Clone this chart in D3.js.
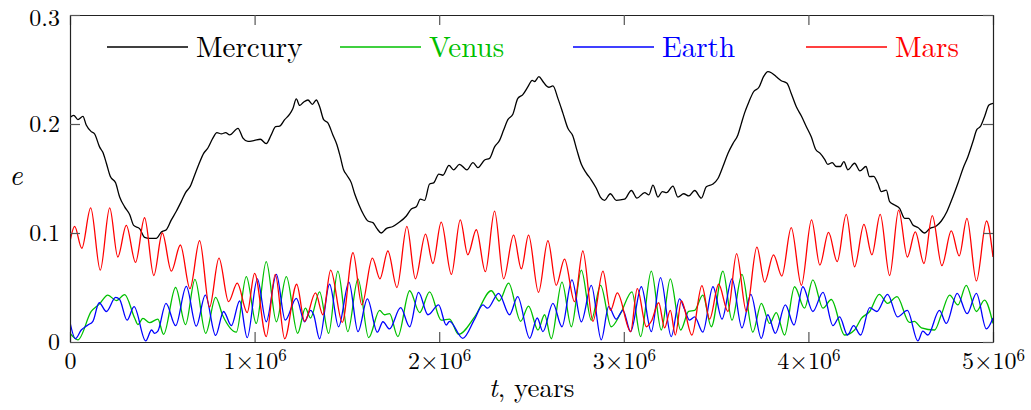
<!DOCTYPE html>
<html>
<head>
<meta charset="utf-8">
<script src="https://cdn.jsdelivr.net/npm/d3@7"></script>
<style>
  body { margin: 0; background: #fff; }
  svg { display: block; }
</style>
</head>
<body>
<div id="chart"></div>
<script>
// Eccentricity of the inner planets over 5 Myr. Pairs are [t in Myr, e].
const mercury = [
  [0,0.206],[0.020,0.208],[0.043,0.204],[0.070,0.207],[0.088,0.199],[0.115,0.193],[0.133,0.191],
  [0.160,0.179],[0.178,0.174],[0.197,0.164],[0.218,0.152],[0.247,0.146],[0.269,0.133],[0.296,0.124],
  [0.323,0.117],[0.345,0.107],[0.377,0.104],[0.404,0.096],[0.431,0.095],[0.467,0.095],[0.495,0.101],
  [0.522,0.103],[0.549,0.112],[0.576,0.120],[0.603,0.129],[0.626,0.137],[0.652,0.143],[0.675,0.153],
  [0.698,0.163],[0.724,0.173],[0.747,0.178],[0.774,0.187],[0.796,0.192],[0.820,0.191],[0.843,0.192],
  [0.865,0.190],[0.910,0.196],[0.937,0.187],[0.964,0.184],[1.000,0.185],[1.031,0.186],[1.063,0.182],
  [1.090,0.190],[1.114,0.1975],[1.135,0.198],[1.163,0.204],[1.190,0.209],[1.207,0.214],[1.226,0.223],
  [1.244,0.217],[1.265,0.220],[1.289,0.222],[1.313,0.218],[1.334,0.222],[1.352,0.216],[1.374,0.204],
  [1.397,0.201],[1.424,0.190],[1.446,0.181],[1.464,0.170],[1.482,0.158],[1.500,0.153],[1.524,0.146],
  [1.542,0.136],[1.565,0.126],[1.590,0.117],[1.614,0.111],[1.641,0.1095],[1.663,0.104],[1.686,0.100],
  [1.713,0.104],[1.749,0.106],[1.776,0.109],[1.822,0.1156],[1.849,0.122],[1.876,0.124],[1.898,0.131],
  [1.921,0.130],[1.948,0.145],[1.970,0.146],[1.998,0.154],[2.020,0.153],[2.053,0.162],[2.078,0.158],
  [2.110,0.163],[2.150,0.158],[2.183,0.1645],[2.210,0.160],[2.246,0.167],[2.273,0.1685],[2.300,0.179],
  [2.327,0.185],[2.349,0.1945],[2.372,0.204],[2.399,0.209],[2.426,0.2235],[2.453,0.227],[2.480,0.234],
  [2.504,0.240],[2.517,0.239],[2.540,0.2434],[2.562,0.239],[2.580,0.235],[2.594,0.2337],[2.616,0.235],
  [2.643,0.2235],[2.670,0.210],[2.697,0.196],[2.724,0.189],[2.746,0.176],[2.770,0.163],[2.797,0.155],
  [2.824,0.1486],[2.851,0.141],[2.873,0.133],[2.896,0.130],[2.927,0.136],[2.959,0.130],[3.004,0.131],
  [3.041,0.139],[3.071,0.132],[3.113,0.137],[3.136,0.135],[3.158,0.144],[3.185,0.133],[3.209,0.138],
  [3.232,0.137],[3.266,0.143],[3.293,0.133],[3.324,0.136],[3.353,0.134],[3.384,0.139],[3.420,0.132],
  [3.447,0.1425],[3.483,0.145],[3.510,0.150],[3.537,0.161],[3.564,0.173],[3.591,0.182],[3.618,0.190],
  [3.637,0.2006],[3.654,0.210],[3.678,0.2205],[3.703,0.2296],[3.732,0.2337],[3.757,0.2434],[3.781,0.248],
  [3.799,0.247],[3.826,0.2434],[3.853,0.2397],[3.884,0.2373],[3.907,0.228],[3.934,0.216],[3.962,0.2073],
  [3.989,0.1975],[4.016,0.188],[4.039,0.1768],[4.064,0.173],[4.088,0.1676],[4.105,0.163],[4.129,0.1645],
  [4.151,0.161],[4.173,0.161],[4.192,0.1654],[4.214,0.158],[4.250,0.164],[4.279,0.157],[4.312,0.161],
  [4.331,0.1517],[4.353,0.152],[4.376,0.1456],[4.395,0.138],[4.422,0.1394],[4.440,0.1287],[4.467,0.1257],
  [4.494,0.1226],[4.521,0.1135],[4.543,0.1135],[4.566,0.1073],[4.593,0.105],[4.630,0.100],[4.657,0.104],
  [4.693,0.1064],[4.720,0.111],[4.750,0.1195],[4.783,0.1333],[4.810,0.1456],[4.837,0.159],[4.864,0.170],
  [4.891,0.1837],[4.913,0.195],[4.931,0.1975],[4.954,0.2067],[4.978,0.2174],[5.000,0.219]
];

const venus = [
  [0,0.008],[0.043,0.002],[0.115,0.028],[0.160,0.035],[0.205,0.043],[0.251,0.038],[0.296,0.0435],
  [0.350,0.022],[0.368,0.016],[0.395,0.0217],[0.431,0.0177],[0.476,0.021],[0.507,0.007],[0.572,0.050],
  [0.626,0.016],[0.677,0.0575],[0.735,0.008],[0.789,0.041],[0.828,0.024],[0.901,0.009],[0.955,0.060],
  [1.009,0.017],[1.063,0.0737],[1.118,0.0186],[1.172,0.060],[1.233,0.008],[1.275,0.031],[1.303,0.022],
  [1.352,0.046],[1.401,0.008],[1.451,0.065],[1.505,0.0095],[1.560,0.058],[1.618,0.004],[1.677,0.029],
  [1.704,0.025],[1.731,0.026],[1.776,0.005],[1.840,0.047],[1.894,0.027],[1.948,0.046],[2.011,0.020],
  [2.056,0.021],[2.105,0.007],[2.192,0.023],[2.282,0.047],[2.325,0.0376],[2.376,0.054],[2.441,0.019],
  [2.484,0.033],[2.535,0.011],[2.571,0.025],[2.607,0.003],[2.665,0.055],[2.716,0.014],[2.770,0.066],
  [2.824,0.020],[2.874,0.052],[2.932,0.014],[2.982,0.026],[3.044,0.046],[3.091,0.005],[3.149,0.065],
  [3.203,0.011],[3.252,0.058],[3.308,0.011],[3.351,0.028],[3.384,0.029],[3.428,0.043],[3.474,0.014],
  [3.537,0.065],[3.586,0.020],[3.640,0.062],[3.699,0.009],[3.745,0.0355],[3.790,0.017],[3.826,0.027],
  [3.871,0.0064],[3.925,0.0507],[3.979,0.031],[4.024,0.057],[4.079,0.031],[4.124,0.039],[4.196,0.0064],
  [4.250,0.011],[4.287,0.0217],[4.332,0.028],[4.384,0.0437],[4.429,0.0355],[4.480,0.0416],[4.547,0.018],
  [4.574,0.019],[4.612,0.013],[4.684,0.011],[4.720,0.025],[4.765,0.043],[4.810,0.034],[4.855,0.052],
  [4.910,0.028],[4.954,0.0385],[5.000,0.017]
];

const earth = [
  [0,0.018],[0.029,0.003],[0.061,0.011],[0.097,0.0156],[0.124,0.019],[0.158,0.036],[0.197,0.028],
  [0.247,0.041],[0.269,0.039],[0.309,0.020],[0.347,0.0324],[0.410,0.001],[0.442,0.011],[0.458,0.008],
  [0.476,0.010],[0.520,0.0355],[0.572,0.015],[0.630,0.051],[0.684,0.0145],[0.733,0.043],[0.789,0.006],
  [0.832,0.028],[0.874,0.015],[0.919,0.0376],[0.960,0.004],[1.015,0.058],[1.063,0.0186],[1.118,0.062],
  [1.166,0.020],[1.226,0.040],[1.271,0.0186],[1.303,0.029],[1.320,0.025],[1.352,0.003],[1.406,0.053],
  [1.455,0.014],[1.511,0.055],[1.560,0.0095],[1.611,0.0395],[1.665,0.009],[1.695,0.0186],[1.731,0.012],
  [1.791,0.0315],[1.840,0.014],[1.888,0.0456],[1.939,0.025],[1.997,0.034],[2.038,0.0156],[2.056,0.019],
  [2.128,0.0034],[2.192,0.021],[2.237,0.034],[2.262,0.031],[2.322,0.0447],[2.381,0.025],[2.425,0.0416],
  [2.490,0.0034],[2.531,0.022],[2.562,0.0095],[2.616,0.0355],[2.665,0.014],[2.719,0.057],[2.770,0.0186],
  [2.824,0.052],[2.878,0.002],[2.918,0.0324],[2.959,0.021],[2.995,0.029],[3.037,0.0095],[3.095,0.0507],
  [3.149,0.0095],[3.199,0.059],[3.257,0.005],[3.302,0.0395],[3.329,0.030],[3.356,0.020],[3.384,0.023],
  [3.428,0.009],[3.483,0.0507],[3.532,0.021],[3.586,0.058],[3.640,0.013],[3.688,0.0437],[3.745,0.0034],
  [3.780,0.025],[3.821,0.008],[3.875,0.034],[3.922,0.0156],[3.970,0.0507],[4.024,0.028],[4.079,0.0456],
  [4.133,0.015],[4.169,0.023],[4.212,0.0064],[4.245,0.015],[4.283,0.0064],[4.332,0.0315],[4.370,0.028],
  [4.429,0.0437],[4.483,0.023],[4.536,0.029],[4.593,0.001],[4.620,0.010],[4.647,0.0064],[4.710,0.029],
  [4.747,0.017],[4.806,0.0447],[4.860,0.026],[4.910,0.0447],[4.964,0.012],[5.000,0.022]
];

const mars = [
  [0,0.092],[0.025,0.106],[0.064,0.086],[0.112,0.123],[0.164,0.066],[0.215,0.123],[0.259,0.078],
  [0.305,0.107],[0.355,0.073],[0.404,0.114],[0.454,0.061],[0.500,0.100],[0.549,0.065],[0.598,0.089],
  [0.650,0.049],[0.702,0.093],[0.756,0.032],[0.807,0.077],[0.859,0.037],[0.906,0.054],[0.960,0.027],
  [1.000,0.063],[1.063,0.005],[1.112,0.062],[1.163,0.003],[1.228,0.053],[1.271,0.019],[1.330,0.045],
  [1.370,0.025],[1.412,0.066],[1.475,0.018],[1.533,0.082],[1.581,0.034],[1.638,0.077],[1.679,0.058],
  [1.722,0.0835],[1.771,0.050],[1.825,0.106],[1.871,0.058],[1.926,0.099],[1.966,0.072],[2.011,0.110],
  [2.066,0.062],[2.114,0.112],[2.155,0.080],[2.201,0.103],[2.250,0.0645],[2.300,0.120],[2.349,0.058],
  [2.403,0.098],[2.445,0.067],[2.484,0.098],[2.538,0.0456],[2.589,0.093],[2.634,0.052],[2.679,0.076],
  [2.733,0.037],[2.778,0.0835],[2.833,0.019],[2.887,0.065],[2.928,0.029],[2.965,0.045],[3.037,0.0095],
  [3.073,0.049],[3.122,0.014],[3.149,0.019],[3.189,0.036],[3.221,0.013],[3.252,0.029],[3.279,0.0064],
  [3.312,0.0376],[3.369,0.0064],[3.423,0.0517],[3.465,0.021],[3.514,0.053],[3.564,0.028],[3.611,0.081],
  [3.664,0.028],[3.721,0.087],[3.763,0.055],[3.811,0.080],[3.856,0.0605],[3.907,0.105],[3.962,0.052],
  [4.017,0.112],[4.062,0.0706],[4.109,0.1006],[4.156,0.0737],[4.205,0.117],[4.250,0.069],[4.301,0.108],
  [4.344,0.080],[4.389,0.117],[4.440,0.061],[4.489,0.121],[4.536,0.078],[4.579,0.101],[4.626,0.072],
  [4.671,0.116],[4.723,0.070],[4.774,0.102],[4.817,0.079],[4.859,0.1135],[4.910,0.056],[4.965,0.111],
  [5.000,0.078]
];

const planetNames = ["Mercury", "Venus", "Earth", "Mars"];
const planetColors = ["#000000", "#00c000", "#0000ff", "#ff0000"];
const series = [mercury, venus, earth, mars];

const xTicks = [0, 1, 2, 3, 4, 5];        // in units of 10^6 years
const yTicks = [0, 0.1, 0.2, 0.3];

const FONT = "'CMU Serif', 'Latin Modern Roman', 'Nimbus Roman', 'FreeSerif', 'Liberation Serif', 'DejaVu Serif', serif";

// chart size
const W = 1031, H = 410;
const m = { top: 15, right: 38, bottom: 68, left: 70 };
const w = W - m.left - m.right;
const h = H - m.top - m.bottom;

const svg = d3.select("#chart").append("svg")
  .attr("width", W)
  .attr("height", H);

const x = d3.scaleLinear().domain([0, 5e6]).range([0, w]);
const y = d3.scaleLinear().domain([0, 0.3]).range([h, 0]);

const g = svg.append("g").attr("transform", "translate(" + m.left + "," + m.top + ")");

g.append("clipPath").attr("id", "clip")
  .append("rect").attr("width", w).attr("height", h);

// curves
const line = d3.line()
  .x(d => x(d[0] * 1e6))
  .y(d => y(d[1]))
  .curve(d3.curveMonotoneX);

g.append("g").attr("clip-path", "url(#clip)")
  .selectAll("path")
  .data(series)
  .enter()
  .append("path")
  .attr("d", line)
  .attr("fill", "none")
  .attr("stroke", (d, i) => planetColors[i])
  .attr("stroke-width", 1.3)
  .attr("stroke-linejoin", "round");

// axes, ticks pointing inward
const tickVals = xTicks.map(v => v * 1e6);

const xAxis = g.append("g")
  .attr("transform", "translate(0," + h + ")")
  .call(d3.axisBottom(x).tickValues(tickVals).tickSize(-10).tickSizeOuter(0).tickPadding(10));

g.append("g")
  .call(d3.axisTop(x).tickValues(tickVals).tickSize(-10).tickSizeOuter(0).tickFormat(""));

const yAxis = g.append("g")
  .call(d3.axisLeft(y).tickValues(yTicks).tickSize(-10).tickSizeOuter(0).tickPadding(10)
    .tickFormat(d => d === 0 ? "0" : d3.format(".1f")(d)));

g.append("g")
  .attr("transform", "translate(" + w + ",0)")
  .call(d3.axisRight(y).tickValues(yTicks).tickSize(-10).tickSizeOuter(0).tickFormat(""));

g.selectAll(".domain").attr("stroke", "#222").attr("stroke-width", 1.2);
g.selectAll(".tick line").attr("stroke", "#555").attr("stroke-width", 1.2);
g.selectAll(".tick text")
  .attr("fill", "#000")
  .attr("font-family", FONT)
  .attr("font-size", 24);

// keep the top label inside the picture
yAxis.selectAll(".tick text").filter(d => d === 0.3).attr("dy", "0.45em");

// x tick labels as k×10^6
xAxis.selectAll(".tick text").each(function(d) {
  const t = d3.select(this);
  const k = d / 1e6;
  t.text("");
  if (k === 0) { t.text("0"); return; }
  t.append("tspan").text(k + "\u00d710");
  t.append("tspan").text("6").attr("dy", "-0.45em").attr("font-size", 17);
});

// axis titles
const xl = svg.append("text")
  .attr("x", m.left + w / 2)
  .attr("y", 397)
  .attr("text-anchor", "middle")
  .attr("font-family", FONT)
  .attr("font-size", 27);
xl.append("tspan").attr("font-style", "italic").text("t");
xl.append("tspan").text(", years");

svg.append("text")
  .attr("x", 16)
  .attr("y", 185)
  .attr("text-anchor", "middle")
  .attr("font-family", FONT)
  .attr("font-size", 29)
  .attr("font-style", "italic")
  .text("e");

// legend
const legend = svg.selectAll(".legend")
  .data(planetNames)
  .enter()
  .append("g")
  .attr("class", "legend")
  .attr("transform", (d, i) => "translate(" + (107 + i * 233) + ",47)");

legend.append("line")
  .attr("x1", 0).attr("x2", 81)
  .attr("stroke", (d, i) => planetColors[i])
  .attr("stroke-width", 1.3);

legend.append("text")
  .attr("x", 89)
  .attr("y", 10)
  .attr("fill", (d, i) => planetColors[i])
  .attr("font-family", FONT)
  .attr("font-size", 29)
  .text(d => d);
</script>
</body>
</html>
